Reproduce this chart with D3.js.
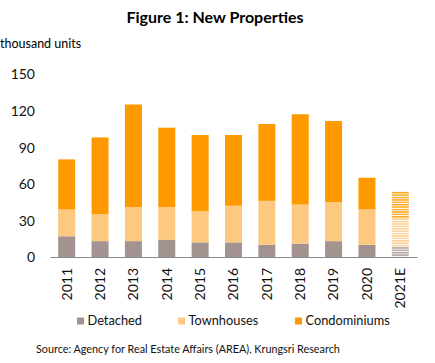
<!DOCTYPE html>
<html>
<head>
<meta charset="utf-8">
<script src="https://cdn.jsdelivr.net/npm/d3@7"></script>
<style>
  body { margin: 0; background: #fff; }
  svg { display: block; font-family: Lato, "Open Sans", sans-serif; }
</style>
</head>
<body>
<div id="chart-area"></div>
<script>
// New properties, thousand units
var years = ["2011", "2012", "2013", "2014", "2015", "2016", "2017", "2018", "2019", "2020", "2021E"];
var detached = [17, 13, 13, 14, 12, 12, 10, 11, 13, 10, 8.5];
var townhouses = [22, 22, 28, 27, 25.5, 30, 36, 32, 32, 29, 23];
var condominiums = [41, 63, 84, 65, 62.5, 58, 63, 74, 66.5, 26, 22.5];
var yTicks = [0, 30, 60, 90, 120, 150];

var seriesNames = ["Detached", "Townhouses", "Condominiums"];
var colors = ["#a39390", "#fdc981", "#fe9a00"];

var width = 435, height = 363;

var svg = d3.select("#chart-area").append("svg")
	.attr("width", width)
	.attr("height", height);

// stripe patterns for the estimate bar
var defs = svg.append("defs");
colors.forEach(function(c, i){
	var p = defs.append("pattern")
		.attr("id", "stripe" + i)
		.attr("patternUnits", "userSpaceOnUse")
		.attr("width", 20)
		.attr("height", 2.4);
	p.append("rect").attr("width", 20).attr("height", 2.4).attr("fill", "#fff");
	p.append("rect").attr("width", 20).attr("height", 1.5).attr("fill", c).attr("opacity", 0.85);
});

var rows = years.map(function(y, i){
	return { year: y, Detached: detached[i], Townhouses: townhouses[i], Condominiums: condominiums[i] };
});

var stack = d3.stack().keys(seriesNames);
var layers = stack(rows);

var x = d3.scaleBand()
	.domain(years)
	.range([50, 417])
	.paddingInner(0.49)
	.paddingOuter(0.245);

var y = d3.scaleLinear()
	.domain([0, 150])
	.range([257, 74]);

// title
svg.append("text")
	.attr("x", 215)
	.attr("y", 23)
	.attr("text-anchor", "middle")
	.style("font-weight", "bold")
	.style("font-size", "16px")
	.text("Figure 1: New Properties");

svg.append("text")
	.attr("x", 0)
	.attr("y", 47.5)
	.style("font-size", "12.5px")
	.text("thousand units");

// bars
svg.selectAll("g.layer")
	.data(layers)
	.enter().append("g")
		.attr("class", "layer")
	.selectAll("rect")
	.data(function(d, i){ return d.map(function(v){ v.k = i; return v; }); })
	.enter().append("rect")
		.attr("x", function(d){ return x(d.data.year); })
		.attr("y", function(d){ return y(d[1]); })
		.attr("width", x.bandwidth())
		.attr("height", function(d){ return y(d[0]) - y(d[1]); })
		.attr("fill", function(d){
			return d.data.year == "2021E" ? "url(#stripe" + d.k + ")" : colors[d.k];
		});

// y axis (labels only)
var yAxis = d3.axisLeft(y).tickValues(yTicks).tickSize(0).tickPadding(0);
var gy = svg.append("g")
	.attr("transform", "translate(35,0)")
	.call(yAxis);
gy.select(".domain").remove();
gy.selectAll("text")
	.attr("dy", "0.35em")
	.style("font-size", "14px")
	.style("font-family", "Lato, sans-serif")
	.attr("fill", "#111");

// x axis
var xAxis = d3.axisBottom(x).tickSize(0).tickPadding(0);
var gx = svg.append("g")
	.attr("transform", "translate(0,257)")
	.call(xAxis);
gx.select(".domain").attr("stroke", "#8c8c8c").attr("stroke-width", 1.2);
gx.selectAll("text")
	.attr("transform", "rotate(-90)")
	.attr("text-anchor", "end")
	.attr("x", -11)
	.attr("y", 0)
	.attr("dy", "0.35em")
	.style("font-size", "14px")
	.style("font-family", "Lato, sans-serif")
	.attr("fill", "#111");

// legend
var legendX = [77, 178, 295];
var legend = svg.selectAll("g.legend")
	.data(seriesNames)
	.enter().append("g")
		.attr("class", "legend")
		.attr("transform", function(d, i){ return "translate(" + legendX[i] + ",321)"; });
legend.append("rect")
	.attr("x", 0).attr("y", -3.5)
	.attr("width", 7).attr("height", 7)
	.attr("fill", function(d, i){ return colors[i]; });
legend.append("text")
	.attr("x", 10.5)
	.attr("dy", "0.35em")
	.style("font-size", "12.8px")
	.attr("fill", "#111")
	.text(function(d){ return d; });

// source
svg.append("text")
	.attr("x", 36)
	.attr("y", 353)
	.style("font-size", "10.8px")
	.attr("fill", "#111")
	.text("Source: Agency for Real Estate Affairs (AREA), Krungsri Research");
</script>
</body>
</html>
